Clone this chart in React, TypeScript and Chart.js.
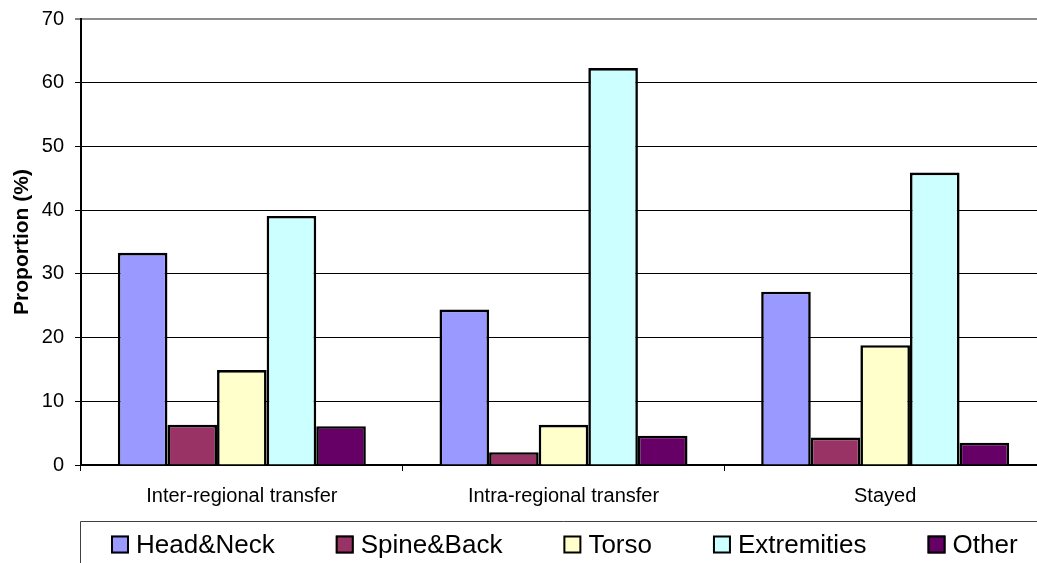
import React, { useEffect, useRef } from "react";
import { Chart, registerables } from "chart.js";

Chart.register(...registerables);

const categories = ["Inter-regional transfer", "Intra-regional transfer", "Stayed"];
const seriesNames = ["Head&Neck", "Spine&Back", "Torso", "Extremities", "Other"];
const headNeck = [33.3, 24.4, 27.2];
const spineBack = [6.3, 2.0, 4.3];
const torso = [14.9, 6.3, 18.8];
const extremities = [39.1, 62.3, 45.9];
const other = [6.1, 4.6, 3.5];
const seriesColors = ["#9999FF", "#993366", "#FFFFCC", "#CCFFFF", "#660066"];
const yTicks = [0, 10, 20, 30, 40, 50, 60, 70];

const FONT = '"Liberation Sans", Arial, sans-serif';

const legendPlugin = {
  id: "boxLegend",
  afterDraw(chart: any) {
    const ctx = chart.ctx;
    ctx.save();
    ctx.strokeStyle = "#404040";
    ctx.lineWidth = 1;
    ctx.beginPath();
    ctx.moveTo(80.5, 570);
    ctx.lineTo(80.5, 521.5);
    ctx.lineTo(chart.width + 5, 521.5);
    ctx.stroke();
    ctx.font = `26px ${FONT}`;
    ctx.textBaseline = "middle";
    ctx.textAlign = "left";
    let x = 111;
    const cy = 544.5;
    chart.data.datasets.forEach((ds: any) => {
      ctx.fillStyle = ds.backgroundColor;
      ctx.fillRect(x, cy - 9, 18, 18);
      ctx.strokeStyle = "#000";
      ctx.lineWidth = 2;
      ctx.strokeRect(x + 1, cy - 8, 16, 16);
      ctx.fillStyle = "#000";
      ctx.fillText(ds.label, x + 25, cy + 1);
      const w = ctx.measureText(ds.label).width;
      x = x + 25 + w + 61;
    });
    ctx.restore();
  },
};

export default function App() {
  const ref = useRef<HTMLCanvasElement | null>(null);
  useEffect(() => {
    document.body.style.margin = "0";
    const values = [headNeck, spineBack, torso, extremities, other];
    const chart = new Chart(ref.current as HTMLCanvasElement, {
      type: "bar",
      data: {
        labels: categories,
        datasets: seriesNames.map((name, i) => ({
          label: name,
          data: values[i],
          backgroundColor: seriesColors[i],
          borderColor: "#000",
          borderWidth: 2.6,
          categoryPercentage: 0.771,
          barPercentage: 1,
        })),
      },
      options: {
        responsive: false,
        animation: false,
        devicePixelRatio: 1,
        layout: { padding: { left: 0, top: 19, right: 0, bottom: 0 } },
        plugins: { legend: { display: false }, tooltip: { enabled: false } },
        scales: {
          x: {
            offset: true,
            border: { color: "#000", width: 2 },
            grid: {
              display: true,
              offset: true,
              drawOnChartArea: false,
              drawTicks: true,
              tickLength: 6,
              color: "#000",
            },
            ticks: {
              color: "#000",
              font: { family: FONT, size: 20 },
              padding: 13,
              maxRotation: 0,
              autoSkip: false,
            },
            afterFit: (s: any) => {
              s.height = 98;
              s.paddingLeft = 0;
              s.paddingRight = 0;
            },
          },
          y: {
            min: 0,
            max: 70,
            border: { color: "#000", width: 2 },
            afterBuildTicks: (s: any) => {
              s.ticks = yTicks.map((v) => ({ value: v }));
            },
            grid: {
              color: (c: any) => (c.tick && c.tick.value === 70 ? "#8c8c8c" : "#000"),
              lineWidth: (c: any) => (c.tick && c.tick.value === 70 ? 2 : 1),
              tickColor: "#000",
              tickWidth: 1,
              tickLength: 6,
            },
            ticks: {
              color: "#000",
              font: { family: FONT, size: 20 },
              padding: 11,
            },
            title: {
              display: true,
              text: "Proportion (%)",
              color: "#000",
              font: { family: FONT, size: 21, weight: "bold" },
              padding: { top: 10, bottom: 0 },
            },
            afterFit: (s: any) => {
              s.width = 81;
              s.paddingTop = 0;
              s.paddingBottom = 0;
            },
          },
        },
      },
      plugins: [legendPlugin],
    });
    return () => chart.destroy();
  }, []);
  return (
    <div style={{ position: "absolute", left: 0, top: 0, width: 1037, height: 563, overflow: "hidden", background: "#fff" }}>
      <canvas ref={ref} width={1046} height={563} style={{ width: 1046, height: 563, display: "block" }} />
    </div>
  );
}
